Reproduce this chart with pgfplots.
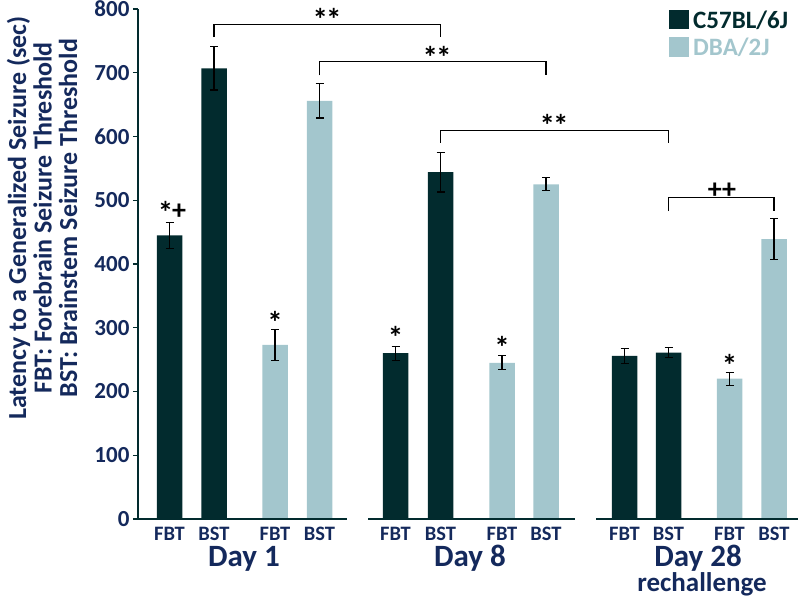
\documentclass[border=0pt]{standalone}
\usepackage{fontspec}
\setmainfont{Carlito}
\usepackage{pgfplots}
\usepackage{pgfplotstable}
\pgfplotsset{compat=1.18}
\definecolor{dk}{HTML}{022B2E}
\definecolor{lt}{HTML}{A3C6CD}
\definecolor{nv}{HTML}{14295C}

\pgfplotstableread{
x y e
169.5 445 20
214 707 34
395.5 260 11
440.5 544 31
624.5 256 12
668.5 261 8
}\cfb
\pgfplotstableread{
x y e
275 273 24
319.5 656 27
502 245 11
546 525 10
729.5 220 10
774 439 32
}\dba

\newcommand\pp[2]{({#1pt-138pt},{519pt-#2pt})}
\tikzset{sig/.style={anchor=base, inner sep=0pt, font=\fontsize{31}{31}\selectfont\bfseries}}

\begin{document}
\begin{tikzpicture}[font=\bfseries]
\useasboundingbox (-138pt,-78pt) rectangle (662pt,519pt);
\begin{axis}[
  x=1pt, y=0.6375pt, xmin=138, xmax=798, ymin=0, ymax=800,
  axis y line*=left, axis x line*=bottom,
  x axis line style={draw=none},
  y axis line style={dk, line width=1.4pt},
  ytick={0,100,...,800},
  xtick={169.5,214,275,319.5,395.5,440.5,502,546,624.5,668.5,729.5,774},
  xticklabels={FBT,BST,FBT,BST,FBT,BST,FBT,BST,FBT,BST,FBT,BST},
  x tick style={draw=none},
  y tick style={dk, line width=1.2pt},
  tick align=outside, major tick length=5pt,
  tick label style={nv},
  yticklabel style={font=\fontsize{23}{23}\selectfont\bfseries},
  xticklabel style={font=\fontsize{20.5}{20.5}\selectfont\bfseries, anchor=north,
     inner sep=0pt, text height=13.5pt, text depth=0pt, yshift=-2.5pt},
  /pgf/number format/assume math mode=true,
  clip=false,
]
\addplot[ybar, bar shift=0pt, bar width=25.5, fill=dk, draw=none,
  error bars/.cd, y dir=both, y explicit,
  error bar style={black, line width=1.1pt},
  error mark options={black, rotate=90, mark size=4pt, line width=1.1pt}]
  table[x=x, y=y, y error=e] {\cfb};
\addplot[ybar, bar shift=0pt, bar width=25.5, fill=lt, draw=none,
  error bars/.cd, y dir=both, y explicit,
  error bar style={black, line width=1.1pt},
  error mark options={black, rotate=90, mark size=4pt, line width=1.1pt}]
  table[x=x, y=y, y error=e] {\dba};
% baselines
\addplot[dk, line width=1.4pt] coordinates {(138,0) (347,0)};
\addplot[dk, line width=1.4pt] coordinates {(368,0) (575,0)};
\addplot[dk, line width=1.4pt] coordinates {(596,0) (798,0)};
% brackets
\addplot[black, line width=1.1pt] coordinates {(214,756) (214,776) (440.5,776) (440.5,756)};
\addplot[black, line width=1.1pt] coordinates {(319.5,696) (319.5,717) (546,717) (546,696)};
\addplot[black, line width=1.1pt] coordinates {(440.5,590) (440.5,609) (668.5,609) (668.5,590)};
\addplot[black, line width=1.1pt] coordinates {(668.5,483) (668.5,504) (774,504) (774,483)};
% significance marks
\node[sig] at (axis cs:327,766) {*\kern-2pt*};
\node[sig] at (axis cs:437,707) {*\kern-2pt*};
\node[sig] at (axis cs:554,600) {*\kern-2pt*};
\node[sig, font=\fontsize{28}{28}\selectfont\bfseries] at (axis cs:722,503) {++};
\node[sig] at (axis cs:172,464) {*\kern-1pt\raisebox{4pt}{\fontsize{28}{28}\selectfont+}};
\node[sig] at (axis cs:275,291) {*};
\node[sig] at (axis cs:395.5,268) {*};
\node[sig] at (axis cs:502,252) {*};
\node[sig] at (axis cs:729.5,224) {*};
\end{axis}
% group labels
\node[nv, anchor=base, inner sep=0pt, font=\fontsize{31}{31}\selectfont\bfseries] at \pp{244}{566} {Day 1};
\node[nv, anchor=base, inner sep=0pt, font=\fontsize{31}{31}\selectfont\bfseries] at \pp{470}{566} {Day 8};
\node[nv, anchor=base, inner sep=0pt, font=\fontsize{31}{31}\selectfont\bfseries] at \pp{698}{566} {Day 28};
\node[nv, anchor=base, inner sep=0pt, font=\fontsize{27}{27}\selectfont\bfseries] at \pp{702}{591} {rechallenge};
% y label
\node[nv, rotate=90, align=center, font=\fontsize{26}{25.5}\selectfont\bfseries] at \pp{42}{218}
  {Latency to a Generalized Seizure (sec)\\FBT: Forebrain Seizure Threshold\\BST: Brainstem Seizure Threshold};
% legend
\fill[dk] \pp{669}{10} rectangle \pp{689}{29};
\fill[lt] \pp{669}{37} rectangle \pp{689}{57};
\node[dk, anchor=west, inner sep=0pt, font=\fontsize{25}{25}\selectfont\bfseries] at \pp{693}{20} {C57BL/6J};
\node[lt, anchor=west, inner sep=0pt, font=\fontsize{25}{25}\selectfont\bfseries] at \pp{693}{47} {DBA/2J};
\end{tikzpicture}
\end{document}
